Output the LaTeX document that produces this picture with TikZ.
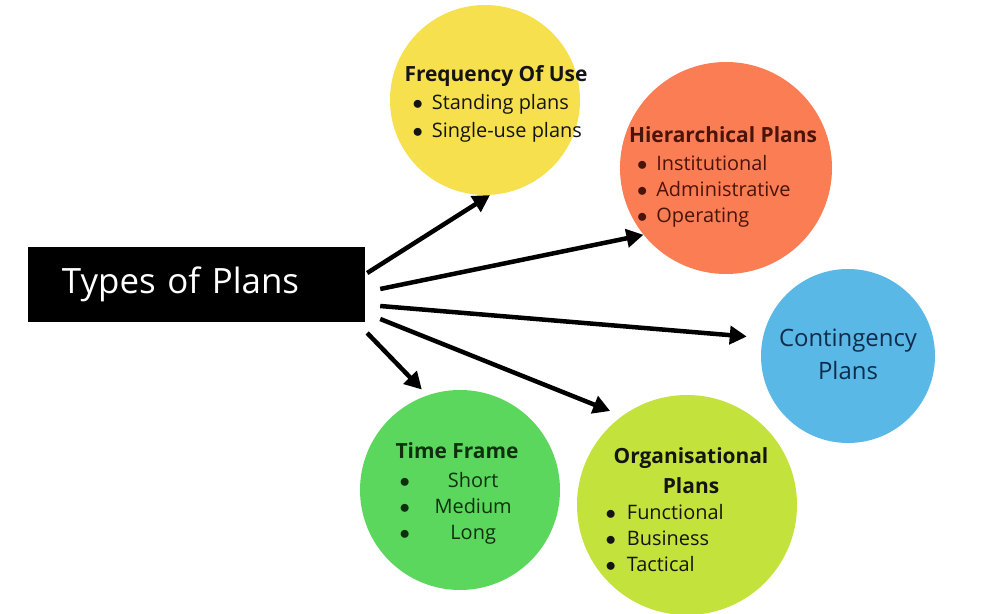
\documentclass[tikz,border=0pt]{standalone}
\usepackage{fontspec}
\setmainfont{Open Sans}
\usepackage{xcolor}
\usepackage{tikz}
\usetikzlibrary{arrows.meta,positioning,calc}
\definecolor{cYellow}{HTML}{F7E04E}
\definecolor{cOrange}{HTML}{FB7D54}
\definecolor{cBlue}{HTML}{5AB8E6}
\definecolor{cGreen}{HTML}{5BD75D}
\definecolor{cLime}{HTML}{C4E23C}
\definecolor{inkP}{HTML}{141414}
\definecolor{inkHier}{HTML}{4A140A}
\definecolor{inkCont}{HTML}{0E2C4C}
\definecolor{inkTime}{HTML}{0E300E}
\newcommand{\pdot}{$\bullet$}
\newcommand{\phead}[1]{{\fontsize{21}{26}\selectfont\bfseries #1}}
\tikzset{
  plancircle/.style={circle, draw=none, inner sep=0pt},
  planlist/.style={font=\fontsize{20}{26}\selectfont, inner sep=0pt,
                   align=center, text=inkP},
  rootbox/.style={fill=black, text=white, inner sep=0pt,
                  minimum width=337bp, minimum height=75bp,
                  text width=269bp, align=left,
                  font=\fontsize{35}{40}\selectfont},
  flow/.style={-{Triangle[length=17bp,width=18bp]}, line width=4.5bp, black},
}

\begin{document}
\begin{tikzpicture}[x=1bp, y=1bp]
  \useasboundingbox (0,0) rectangle (998,614);
  \fill[white] (0,0) rectangle (998,614);
  % centre box
  \node[rootbox] (plans) at (196.5,329.5) {Types of Plans};
  % circles
  \node[plancircle, fill=cYellow, minimum size=190bp] (freq) at (485,514) {};
  \node[plancircle, fill=cOrange, minimum size=212bp] (hier) at (726,446) {};
  \node[plancircle, fill=cBlue, minimum size=174bp] (cont) at (848,258) {};
  \node[plancircle, fill=cGreen, minimum size=200bp] (time) at (460,124) {};
  \node[plancircle, fill=cLime, minimum size=220bp] (org) at (687,109) {};
  % texts
  \node[planlist, font=\fontsize{20}{28}\selectfont] (freqtxt)
    at ($(freq.center)+(11,-4)$) {%
    \begin{tabular}{@{\hspace{14bp}}l@{\hspace{9bp}}l@{}}
      \multicolumn{2}{c}{\phead{Frequency Of Use}}\\
      \pdot & Standing plans\\
      \pdot & Single-use plans
    \end{tabular}};
  \node[planlist, text=inkHier] (hiertxt) at ($(hier.center)+(-3,-9)$) {%
    \begin{tabular}{@{\hspace{14bp}}l@{\hspace{9bp}}l@{}}
      \multicolumn{2}{c}{\phead{Hierarchical Plans}}\\[2bp]
      \pdot & Institutional\\
      \pdot & Administrative\\
      \pdot & Operating
    \end{tabular}};
  \node[planlist, text=inkCont, font=\fontsize{24}{33}\selectfont]
    (conttxt) at ($(cont.center)+(0,1.5)$) {Contingency\\Plans};
  \node[planlist, text=inkTime] (timetxt) at ($(time.center)+(-3,-4)$) {%
    \begin{tabular}{@{\hspace{10bp}}c@{\hspace{12bp}}c@{}}
      \multicolumn{2}{c}{\phead{Time Frame}}\\[3bp]
      \pdot & Short\\
      \pdot & Medium\\
      \pdot & Long
    \end{tabular}};
  \node[planlist] (orgtxt) at ($(org.center)+(4,-7.5)$) {%
    \begin{tabular}{@{\hspace{-2bp}}l@{\hspace{11bp}}l@{}}
      \multicolumn{2}{c}{\phead{Organisational}}\\[4bp]
      \multicolumn{2}{c}{\phead{Plans}}\\
      \pdot & Functional\\
      \pdot & Business\\
      \pdot & Tactical
    \end{tabular}};
  % arrow tails
  \coordinate (t1) at ($(plans.east)+(2,11.5)$);
  \coordinate (t2) at ($(plans.east)+(15,-4.5)$);
  \coordinate (t3) at ($(plans.east)+(15,-21.5)$);
  \coordinate (t4) at ($(plans.east)+(15,-34.5)$);
  \coordinate (t5) at ($(plans.east)+(2,-48.5)$);
  \draw[flow] (t1) -- (freq.-87);
  \draw[flow] (t2) -- (hier.219);
  \draw[flow, shorten >=16bp] (t3) -- (cont.168);
  \draw[flow, shorten >=13bp] (t4) -- (org.126);
  \draw[flow, shorten >=8bp] (t5) -- (time.109);
\end{tikzpicture}
\end{document}
